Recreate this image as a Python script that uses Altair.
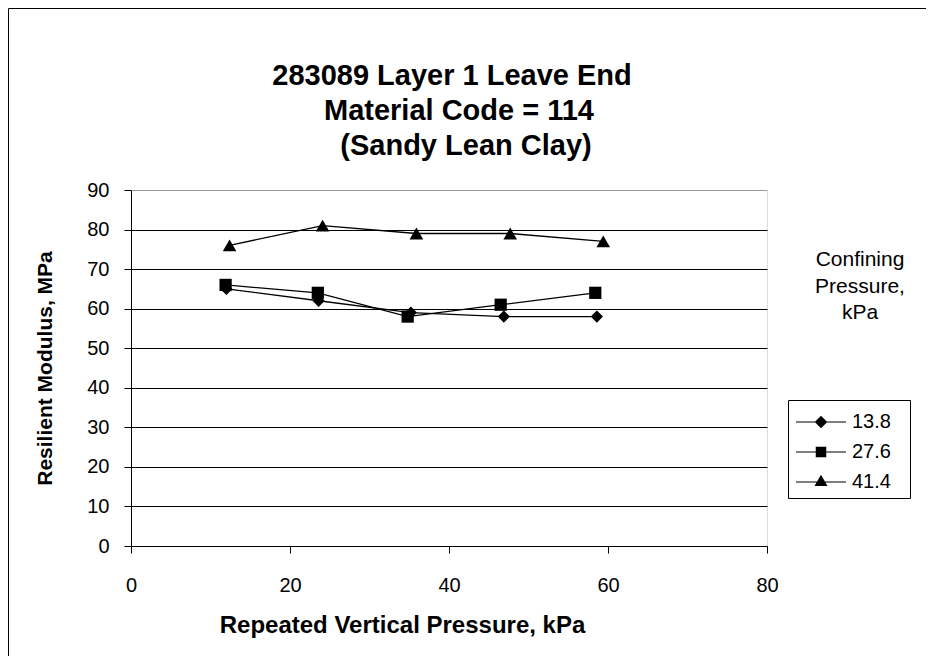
import altair as alt
import pandas as pd

# Data
series_labels = ["13.8", "27.6", "41.4"]
x_13_8 = [12.0, 23.6, 35.2, 46.9, 58.6]
y_13_8 = [65, 62, 59, 58, 58]
x_27_6 = [11.9, 23.5, 34.8, 46.5, 58.4]
y_27_6 = [66, 64, 58, 61, 64]
x_41_4 = [12.4, 24.1, 35.9, 47.7, 59.4]
y_41_4 = [76, 81, 79, 79, 77]

x_ticks = [0, 20, 40, 60, 80]
y_ticks = [0, 10, 20, 30, 40, 50, 60, 70, 80, 90]

title_line1 = "283089 Layer 1 Leave End"
title_line2 = "Material Code = 114"
title_line3 = "(Sandy Lean Clay)"
legend_title = "Confining\nPressure,\nkPa"

rows = []
for lab, xs, ys in [("13.8", x_13_8, y_13_8), ("27.6", x_27_6, y_27_6), ("41.4", x_41_4, y_41_4)]:
    for xv, yv in zip(xs, ys):
        rows.append({"series": lab, "x": xv, "y": yv})
df = pd.DataFrame(rows)

FONT = "Liberation Sans"

xscale = alt.Scale(domain=[0, 80], nice=False, zero=True)
yscale = alt.Scale(domain=[0, 90], nice=False, zero=True)

x_axis = alt.Axis(
    title="Repeated Vertical Pressure, kPa", values=x_ticks, grid=False,
    domainColor="black", tickColor="black", tickSize=7, labelPadding=22,
    labelFontSize=20, labelFont=FONT, labelColor="black", labelOverlap=False,
    labelFlush=False,
    titleFont=FONT, titleFontSize=24, titleFontWeight="bold", titleColor="black",
    titleX=271, titleY=79, titleBaseline="middle", titleAlign="center",
)
y_axis = alt.Axis(
    title="Resilient Modulus, MPa", values=y_ticks, grid=True,
    gridColor={"condition": {"test": "datum.value == 90", "value": "#999999"}, "value": "black"},
    gridWidth=1,
    domainColor="black", tickColor="black", tickSize=7, labelPadding=15,
    labelFontSize=20, labelFont=FONT, labelColor="black", labelOverlap=False,
    labelFlush=False,
    titleFont=FONT, titleFontSize=21, titleFontWeight="bold", titleColor="black",
    titleX=-86, titleY=178, titleBaseline="middle", titleAlign="center", titleAngle=270,
)


def xe():
    return alt.X("x:Q", scale=xscale, axis=x_axis)


def ye():
    return alt.Y("y:Q", scale=yscale, axis=y_axis)


base = alt.Chart(df)

lines = base.mark_line(color="black", strokeWidth=1.3).encode(
    x=xe(), y=ye(), detail="series:N"
)

marker_shapes = {"13.8": ("diamond", 150), "27.6": ("square", 150), "41.4": ("triangle-up", 185)}
point_layers = []
for lab in series_labels:
    shp, sz = marker_shapes[lab]
    point_layers.append(
        base.transform_filter(alt.datum.series == lab)
        .mark_point(filled=True, color="black", opacity=1, strokeWidth=0, shape=shp, size=sz)
        .encode(x=xe(), y=ye())
    )

# Legend symbols: a short line through the marker (all sub-paths clockwise, filled)
legend_paths = [
    "M-5,-0.12L5,-0.12L5,0.12L-5,0.12Z M0,-1.25L1.25,0L0,1.25L-1.25,0Z",
    "M-5,-0.12L5,-0.12L5,0.12L-5,0.12Z M-1.05,-1.05L1.05,-1.05L1.05,1.05L-1.05,1.05Z",
    "M-5,-0.12L5,-0.12L5,0.12L-5,0.12Z M0,-1.45L1.3,0.8L-1.3,0.8Z",
]

legend_layer = base.mark_point(filled=True, opacity=0, color="black", strokeWidth=0).encode(
    x=xe(), y=ye(),
    shape=alt.Shape(
        "series:N",
        scale=alt.Scale(domain=series_labels, range=legend_paths),
        legend=alt.Legend(
            title=None, orient="none", legendX=665, legendY=222, padding=0,
            symbolSize=100, symbolOffset=15, labelOffset=21,
            symbolFillColor="black", symbolStrokeWidth=0,
            symbolOpacity=1, labelFontSize=20, labelFont=FONT, labelColor="black",
            rowPadding=10,
        ),
    ),
)

# legend frame (decoration)
legend_box = alt.Chart(pd.DataFrame({"b": [0]})).mark_rect(
    fill="white", stroke="black", strokeWidth=1
).encode(x=alt.value(657.5), y=alt.value(210.5), x2=alt.value(779.5), y2=alt.value(308.5))

legend_text = alt.Chart(pd.DataFrame({"t": [legend_title]})).mark_text(
    font=FONT, fontSize=21, color="black", align="center", baseline="alphabetic",
    lineBreak="\n", lineHeight=26.5,
).encode(text="t:N", x=alt.value(729), y=alt.value(76))

title_df = pd.DataFrame({"a": [title_line1], "b": [title_line2], "c": [title_line3]})
title_style = dict(font=FONT, fontSize=29, fontWeight="bold", color="black",
                   align="center", baseline="alphabetic")
t1 = alt.Chart(title_df).mark_text(**title_style).encode(
    text="a:N", x=alt.value(321), y=alt.value(-105))
t2 = alt.Chart(title_df).mark_text(**title_style).encode(
    text="b:N", x=alt.value(328), y=alt.value(-70))
t3 = alt.Chart(title_df).mark_text(**title_style).encode(
    text="c:N", x=alt.value(335), y=alt.value(-35))

border = alt.Chart(pd.DataFrame({"b": [0]})).mark_rect(
    fillOpacity=0, stroke="black", strokeWidth=1
).encode(x=alt.value(-122.5), y=alt.value(-181.5), x2=alt.value(900), y2=alt.value(700))

chart = alt.layer(border, legend_box, lines, *point_layers, legend_layer, legend_text,
                  t1, t2, t3).properties(
    width=636, height=356,
    autosize=alt.AutoSizeParams(type="none"),
    padding={"left": 123, "top": 182, "right": 159, "bottom": 110},
).configure_view(stroke="#999999", strokeWidth=1).configure(background="white")

chart.save("out.html", embed_options={"renderer": "svg", "actions": False})
